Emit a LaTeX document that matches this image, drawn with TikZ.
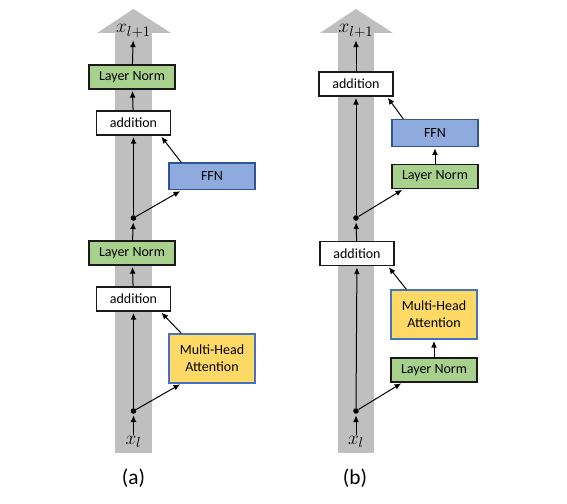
\documentclass[tikz,border=0pt]{standalone}
\usepackage{fontspec}
\setmainfont{Carlito}
\usetikzlibrary{arrows.meta,positioning}
\definecolor{pillar}{HTML}{BFBFBF}
\definecolor{normfill}{HTML}{A9D18E}
\definecolor{ffnfill}{HTML}{8FAADC}
\definecolor{ffnline}{HTML}{2F5597}
\definecolor{attnfill}{HTML}{FFD966}
\definecolor{attnline}{HTML}{4472C4}
\definecolor{ink}{HTML}{1A1A1A}
\tikzset{
  blk/.style={draw=ink, line width=1pt, align=center, inner sep=0pt,
              font=\fontsize{10.5}{12.5}\selectfont, minimum width=64.5pt, minimum height=18pt},
  norm/.style={blk, fill=normfill},
  addbox/.style={blk, fill=white, minimum width=55.5pt},
  ffn/.style={blk, draw=ffnline, fill=ffnfill, minimum height=20pt},
  attn/.style={blk, draw=attnline, fill=attnfill, minimum height=36.75pt},
  junc/.style={circle, fill=black, inner sep=0pt, minimum size=4.2pt},
  arr/.style={-{Latex[length=5pt,width=4.4pt]}, line width=0.75pt, shorten >=1pt},
}

\begin{document}
\begin{tikzpicture}[x=0.75pt, y=0.75pt,
      tag/.style={font=\fontsize{15}{17}\selectfont, inner sep=1pt},
      paneltag/.style={font=\fontsize{16}{19}\selectfont}]
    \useasboundingbox (0,0) rectangle (567,503);
    % residual streams
    \fill[pillar] (115,50) rectangle (152,470);
    \fill[pillar] (97,470) -- (133.5,494) -- (171,470) -- cycle;
    \fill[pillar] (338,50) rectangle (374,470);
    \fill[pillar] (320,470) -- (356,494) -- (393,470) -- cycle;

    % (a) post-norm
    \node[tag] (xina) at (133.5,61) {$x_l$};
    \node[junc] (ja1) at (133.5,92) {};
    \node[attn] (mhaa) at (212,144.5) {Multi-Head\\Attention};
    \node[addbox] (adda1) at (133.5,204) {addition};
    \node[norm] (lna1) at (132,250) {Layer Norm};
    \node[junc] (ja2) at (133.5,285) {};
    \node[ffn] (ffna) at (212,326.5) {FFN};
    \node[addbox] (adda2) at (133.5,380) {addition};
    \node[norm] (lna2) at (132,426) {Layer Norm};
    \node[tag] (xouta) at (133.5,472) {$x_{l+1}$};
    \node[paneltag] (capa) at (133.5,25) {(a)};

    \draw[arr] (xina) -- (ja1);
    \draw[arr] (ja1) -- (adda1);
    \draw[arr] (ja1) -- ([xshift=9.75pt]mhaa.south west);
    \draw[arr] ([xshift=9.75pt]mhaa.north west) -- ([xshift=-8pt]adda1.south east);
    \draw[arr] (adda1) -- (lna1);
    \draw[arr] (lna1) -- (ja2);
    \draw[arr] (ja2) -- (adda2);
    \draw[arr] (ja2) -- ([xshift=9.75pt]ffna.south west);
    \draw[arr] ([xshift=9.75pt]ffna.north west) -- ([xshift=-8pt]adda2.south east);
    \draw[arr] (adda2) -- (lna2);
    \draw[arr] (lna2) -- (xouta);

    % (b) pre-norm
    \node[tag] (xinb) at (356,61) {$x_l$};
    \node[junc] (jb1) at (356,92) {};
    \node[norm] (lnb1) at (434,133) {Layer Norm};
    \node[attn] (mhab) at (434,188.5) {Multi-Head\\Attention};
    \node[addbox] (addb1) at (357,249.5) {addition};
    \node[junc] (jb2) at (356,285) {};
    \node[norm] (lnb2) at (435,326.5) {Layer Norm};
    \node[ffn] (ffnb) at (435,370) {FFN};
    \node[addbox] (addb2) at (356,419) {addition};
    \node[tag] (xoutb) at (356,472) {$x_{l+1}$};
    \node[paneltag] (capb) at (355,25) {(b)};

    \draw[arr] (xinb) -- (jb1);
    \draw[arr] (jb1) -- (addb1);
    \draw[arr] (jb1) -- ([xshift=9pt]lnb1.south west);
    \draw[arr] (lnb1) -- (mhab);
    \draw[arr] ([xshift=12pt]mhab.north west) -- ([xshift=-5pt]addb1.south east);
    \draw[arr] (addb1) -- (jb2);
    \draw[arr] (jb2) -- (addb2);
    \draw[arr] (jb2) -- ([xshift=9pt]lnb2.south west);
    \draw[arr] (lnb2) -- (ffnb);
    \draw[arr] ([xshift=9pt]ffnb.north west) -- ([xshift=-5pt]addb2.south east);
    \draw[arr] (addb2) -- (xoutb);
  \end{tikzpicture}
\end{document}
